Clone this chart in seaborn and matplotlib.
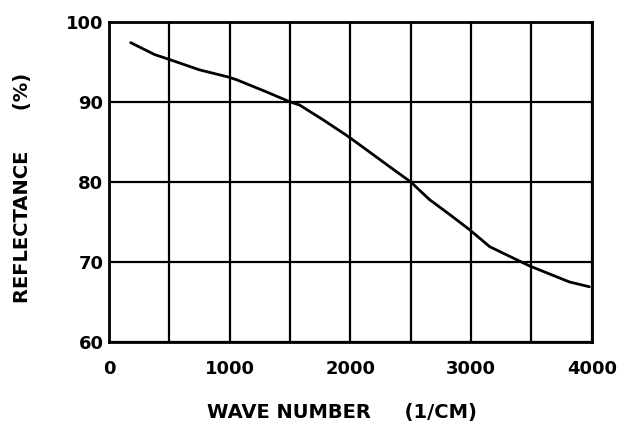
import numpy as np
import pandas as pd
import seaborn as sns
import matplotlib.pyplot as plt
from matplotlib.ticker import MultipleLocator

# Curve
wave_number = [180, 380, 500, 750, 990, 1060, 1280, 1500, 1580, 1775, 1980,
               2135, 2325, 2500, 2655, 2825, 2990, 3155, 3320, 3485, 3650,
               3815, 3980]
reflectance = [97.4, 95.9, 95.3, 94.0, 93.1, 92.75, 91.4, 90.0, 89.6, 87.75,
               85.7, 84.0, 81.9, 80.0, 77.8, 75.9, 74.0, 71.9, 70.7, 69.5,
               68.5, 67.5, 66.9]

x_ticks = [0, 1000, 2000, 3000, 4000]
y_ticks = [60, 70, 80, 90, 100]

df = pd.DataFrame({'wave': wave_number, 'refl': reflectance})

sns.set_style('white')
plt.rcParams['font.family'] = ['DejaVu Sans']
plt.rcParams['font.weight'] = 'bold'
plt.rcParams['text.color'] = 'black'
plt.rcParams['axes.labelcolor'] = 'black'
plt.rcParams['xtick.color'] = 'black'
plt.rcParams['ytick.color'] = 'black'

fig = plt.figure(figsize=(6.19, 4.28), dpi=100)
ax = fig.add_axes([0.176, 0.201, 0.780, 0.748])

sns.lineplot(data=df, x='wave', y='refl', color='black', lw=2, ax=ax)

ax.set_xlim(0, 4000)
ax.set_ylim(60, 100)
ax.set_xticks(x_ticks)
ax.set_yticks(y_ticks)
ax.xaxis.set_minor_locator(MultipleLocator(500))

# grid on every 500 and every 10
ax.grid(True, which='both', color='black', lw=1.6)
ax.tick_params(which='both', length=0)
ax.tick_params(axis='x', pad=13, labelsize=13)
ax.tick_params(axis='y', pad=4, labelsize=13)
for lab in ax.get_xticklabels() + ax.get_yticklabels():
    lab.set_fontweight('bold')

for s in ax.spines.values():
    s.set_color('black')
    s.set_linewidth(2)

ax.set_xlabel('WAVE NUMBER     (1/CM)', fontsize=14, fontweight='bold')
ax.set_ylabel('REFLECTANCE      (%)', fontsize=14, fontweight='bold')
ax.xaxis.set_label_coords(0.482, -0.19)
ax.yaxis.set_label_coords(-0.16, 0.48)

fig.savefig('out.png', dpi=100)
